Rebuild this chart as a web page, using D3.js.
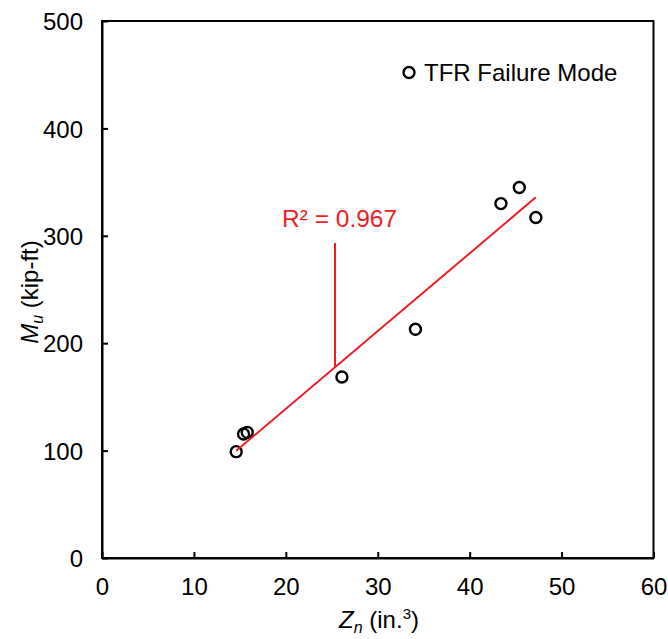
<!DOCTYPE html>
<html><head><meta charset="utf-8">
<script src="https://cdn.jsdelivr.net/npm/d3@7/dist/d3.min.js"></script>
<style>body{margin:0;background:#fff}svg{display:block}text{font-family:"Liberation Sans",Arial,sans-serif}</style>
</head><body>
<script>
const zn = [14.6, 15.4, 15.8, 26.1, 34.1, 43.4, 45.4, 47.2];
const mu = [99, 115.5, 117, 168.5, 213, 330, 345, 317];
const xTicks = [0, 10, 20, 30, 40, 50, 60];
const yTicks = [0, 100, 200, 300, 400, 500];
const r2Label = "R² = 0.967";
const legendLabel = "TFR Failure Mode";

const W = 668, H = 639;
const m = {left: 102, top: 21, right: 14.5, bottom: 81};
const svg = d3.select("body").append("svg").attr("width", W).attr("height", H);
const x = d3.scaleLinear().domain([0, 60]).range([m.left, W - m.right]);
const y = d3.scaleLinear().domain([0, 500]).range([H - m.bottom, m.top]);

// frame
svg.append("rect").attr("x", x(0)).attr("y", y(500)).attr("width", x(60) - x(0)).attr("height", y(0) - y(500))
  .attr("fill", "none").attr("stroke", "#000").attr("stroke-width", 2);

const xa = svg.append("g").attr("transform", `translate(0,${y(0)})`)
  .call(d3.axisBottom(x).tickValues(xTicks).tickSizeInner(-6).tickSizeOuter(0).tickPadding(16));
const ya = svg.append("g").attr("transform", `translate(${x(0)},0)`)
  .call(d3.axisLeft(y).tickValues(yTicks).tickSizeInner(-6).tickSizeOuter(0).tickPadding(19));
[xa, ya].forEach(g => {
  g.select(".domain").attr("stroke", "#000").attr("stroke-width", 2);
  g.selectAll(".tick line").attr("stroke", "#000").attr("stroke-width", 2);
  g.selectAll(".tick text").attr("font-size", 24).attr("fill", "#000")
    .style("font-family", '"Liberation Sans",Arial,sans-serif');
});
xa.selectAll(".tick text").attr("dy", "0.71em").attr("y", 20);
ya.selectAll(".tick text").attr("dy", "0.36em");

// points
const data = zn.map((v, i) => ({x: v, y: mu[i]}));
svg.append("g").selectAll("circle").data(data).join("circle")
  .attr("cx", d => x(d.x)).attr("cy", d => y(d.y)).attr("r", 5.5)
  .attr("fill", "none").attr("stroke", "#000").attr("stroke-width", 2.4);

// linear trendline (least squares)
const mx = d3.mean(zn), my = d3.mean(mu);
const sxy = d3.sum(zn.map((v, i) => (v - mx) * (mu[i] - my)));
const sxx = d3.sum(zn.map(v => (v - mx) ** 2));
const slope = sxy / sxx, icpt = my - slope * mx;
const x0 = d3.min(zn), x1 = d3.max(zn);
svg.append("line").attr("x1", x(x0)).attr("y1", y(slope * x0 + icpt))
  .attr("x2", x(x1)).attr("y2", y(slope * x1 + icpt))
  .attr("stroke", "#ee1c25").attr("stroke-width", 2);

// R² label and leader
const lx = x.invert(335);
svg.append("line").attr("x1", x(lx)).attr("x2", x(lx)).attr("y1", 243).attr("y2", y(slope * lx + icpt))
  .attr("stroke", "#ee1c25").attr("stroke-width", 2);
svg.append("text").attr("x", 282).attr("y", 227).attr("font-size", 24.5).attr("fill", "#ee1c25").text(r2Label);

// legend
svg.append("circle").attr("cx", 409).attr("cy", 72.5).attr("r", 5.5).attr("fill", "none").attr("stroke", "#000").attr("stroke-width", 2.4);
svg.append("text").attr("x", 424).attr("y", 81).attr("font-size", 24).attr("fill", "#000").text(legendLabel);

// axis titles
const xt = svg.append("text").attr("x", 379).attr("y", 628).attr("text-anchor", "middle").attr("font-size", 24).attr("fill", "#000");
xt.append("tspan").attr("font-style", "italic").text("Z");
xt.append("tspan").attr("font-style", "italic").attr("font-size", 16).attr("dy", 5).text("n");
xt.append("tspan").attr("dy", -5).text(" (in.");
xt.append("tspan").attr("font-size", 15).attr("dy", -9).text("3");
xt.append("tspan").attr("dy", 9).text(")");

const yt = svg.append("text").attr("transform", "translate(38,292) rotate(-90)").attr("text-anchor", "middle").attr("font-size", 24).attr("fill", "#000");
yt.append("tspan").attr("font-style", "italic").text("M");
yt.append("tspan").attr("font-style", "italic").attr("font-size", 16).attr("dy", 5).text("u");
yt.append("tspan").attr("dy", -5).text(" (kip-ft)");
</script>
</body></html>
